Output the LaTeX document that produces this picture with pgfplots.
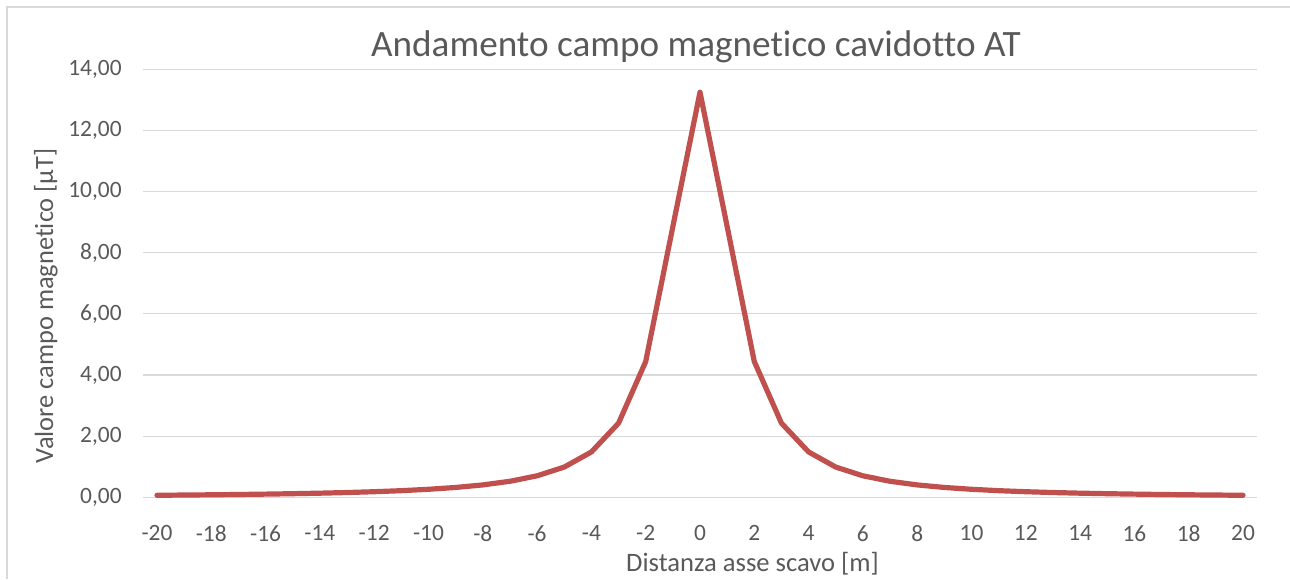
\documentclass[border=0pt]{standalone}
\usepackage{fontspec}
\setmainfont{Carlito}[Ligatures={NoCommon}]
\usepackage{pgfplots}
\pgfplotsset{compat=1.18}
\definecolor{txt}{HTML}{595959}
\definecolor{grd}{HTML}{D9D9D9}
\definecolor{ser}{HTML}{C0504D}
\begin{document}
\begin{tikzpicture}
\useasboundingbox (0,0) rectangle (645pt,289.5pt);
\draw[grd, line width=0.6pt] (3.5pt,0) -- (3.5pt,286pt) -- (645pt,286pt);
\begin{axis}[
  at={(71.7pt,40.85pt)}, anchor=south west,
  scale only axis, width=556.6pt, height=214pt,
  xmin=-20.5, xmax=20.5, ymin=0, ymax=14,
  axis line style={draw=none},
  major tick length=0pt,
  tick style={draw=none},
  ymajorgrids, grid style={grd, line width=0.6pt},
  ytick={0,2,...,14},
  xtick={-20,-18,...,20},
  xticklabels={-20,-18,-16,-14,-12,-10,-8,-6,-4,-2,0,2,4,6,8,10,12,14,16,18,20},
  yticklabel={\pgfmathprintnumber[fixed,fixed zerofill,precision=2,use comma,assume math mode=true]{\tick}},
  tick label style={font=\fontsize{11.7pt}{13pt}\selectfont, text=txt, inner sep=0pt},
  yticklabel style={anchor=east, xshift=-10.7pt},
  xticklabel style={anchor=north, yshift=-13.8pt},
  clip=false,
]
\addplot[ser, line width=2.6pt, line join=round, line cap=round] coordinates {
(-20,0.066) (-19,0.074) (-18,0.082) (-17,0.092) (-16,0.104) (-15,0.118) (-14,0.135)
(-13,0.156) (-12,0.183) (-11,0.217) (-10,0.262) (-9,0.322) (-8,0.405) (-7,0.524)
(-6,0.703) (-5,0.989) (-4,1.483) (-3,2.425) (-2,4.440) (-1,8.856) (0,13.25)
(1,8.856) (2,4.440) (3,2.425) (4,1.483) (5,0.989) (6,0.703) (7,0.524) (8,0.405)
(9,0.322) (10,0.262) (11,0.217) (12,0.183) (13,0.156) (14,0.135) (15,0.118)
(16,0.104) (17,0.092) (18,0.082) (19,0.074) (20,0.066)
};
\end{axis}
\node[anchor=base, text=txt, font=\fontsize{18.6pt}{21pt}\selectfont, inner sep=0pt] at (348pt,261pt) {Andamento campo magnetico cavidotto AT};
\node[anchor=base, text=txt, font=\fontsize{13.3pt}{15pt}\selectfont, inner sep=0pt] at (376.25pt,4pt) {Distanza asse scavo [m]};
\node[anchor=base, rotate=90, text=txt, font=\fontsize{13.2pt}{15pt}\selectfont, inner sep=0pt] at (26.5pt,136.5pt) {Valore campo magnetico [µT]};
\end{tikzpicture}
\end{document}
